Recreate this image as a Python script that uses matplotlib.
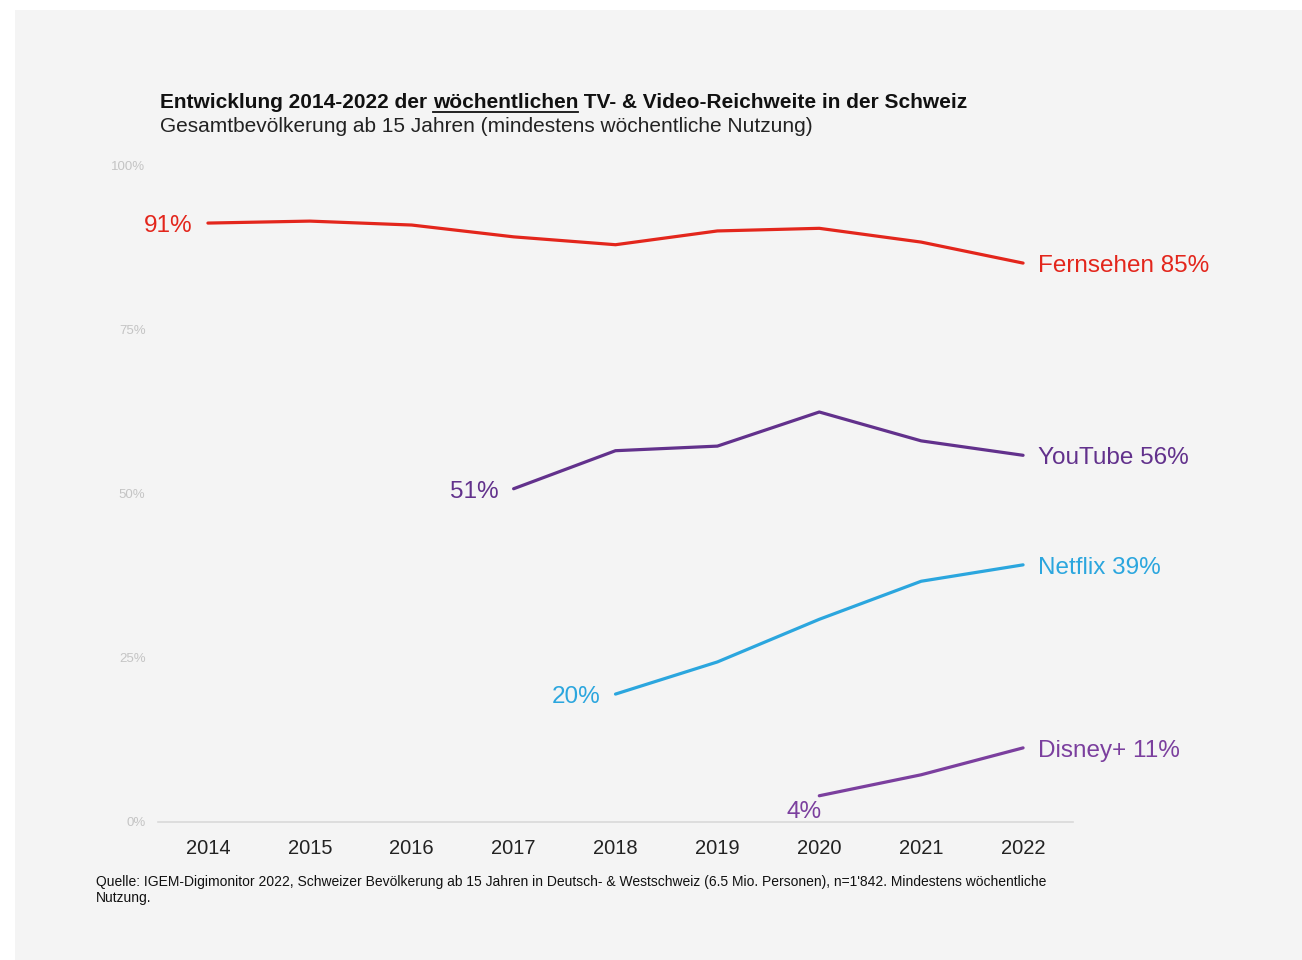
import matplotlib
matplotlib.use('Agg')
import matplotlib.pyplot as plt
from matplotlib.lines import Line2D
from matplotlib.patches import Rectangle

plt.rcParams['font.family'] = ['Liberation Sans', 'DejaVu Sans']

# data (percent, weekly reach)
years = [2014, 2015, 2016, 2017, 2018, 2019, 2020, 2021, 2022]
tv_years = years
tv_vals = [91.3, 91.6, 91.0, 89.2, 88.0, 90.1, 90.5, 88.4, 85.2]
yt_years = [2017, 2018, 2019, 2020, 2021, 2022]
yt_vals = [50.8, 56.6, 57.3, 62.5, 58.1, 55.9]
nf_years = [2018, 2019, 2020, 2021, 2022]
nf_vals = [19.5, 24.4, 30.9, 36.7, 39.2]
dp_years = [2020, 2021, 2022]
dp_vals = [4.0, 7.2, 11.3]

names = ["Fernsehen", "YouTube", "Netflix", "Disney+"]
start_labels = ["91%", "51%", "20%", "4%"]
end_labels = ["85%", "56%", "39%", "11%"]
colors = ["#e3261c", "#62318c", "#2ba6de", "#7b3f9e"]
yticks = [0, 25, 50, 75, 100]

W, H = 1302, 960
fig = plt.figure(figsize=(W / 100, H / 100), dpi=100, facecolor="white")
fig.patches.append(Rectangle((15 / W, 0), 1 - 15 / W, 1 - 10 / H, transform=fig.transFigure,
                             facecolor="#f4f4f4", edgecolor="none", zorder=-10))

ax = fig.add_axes([158 / W, (H - 822) / H, 915 / W, 656 / H])
ax.set_facecolor("none")
ax.set_xlim(2013.51, 2022.49)
ax.set_ylim(0, 100)
for s in ["top", "right", "left"]:
    ax.spines[s].set_visible(False)
ax.spines["bottom"].set_color("#d9d9d9")
ax.spines["bottom"].set_linewidth(1.2)
ax.set_xticks(years)
ax.set_xticklabels([str(y) for y in years], fontsize=14.5, color="#222222")
ax.set_yticks(yticks)
ax.set_yticklabels([f"{v}%" for v in yticks], fontsize=9.5, color="#c4c4c4")
ax.tick_params(axis="both", length=0)
ax.tick_params(axis="x", pad=12)
ax.tick_params(axis="y", pad=9)

series = [(tv_years, tv_vals), (yt_years, yt_vals), (nf_years, nf_vals), (dp_years, dp_vals)]
for (xs, ys), name, sl, el, c in zip(series, names, start_labels, end_labels, colors):
    ax.plot(xs, ys, color=c, lw=2.3, solid_capstyle="round", clip_on=False)
    ax.annotate(f"{name} {el}", (xs[-1], ys[-1]), xytext=(11, -2.2), textcoords="offset points",
                ha="left", va="center", fontsize=17.5, color=c, annotation_clip=False)
    if name == "Disney+":
        ax.annotate(sl, (xs[0], ys[0]), xytext=(-11, -12), textcoords="offset points",
                    ha="center", va="center", fontsize=17.5, color=c, annotation_clip=False)
    else:
        ax.annotate(sl, (xs[0], ys[0]), xytext=(-11, -2.2), textcoords="offset points",
                    ha="right", va="center", fontsize=17.5, color=c, annotation_clip=False)

# title with underlined word
fig.canvas.draw()
r = fig.canvas.get_renderer()
tx, ty = 160 / W, 1 - 102 / H
parts = ["Entwicklung 2014-2022 der ", "wöchentlichen", " TV- & Video-Reichweite in der Schweiz"]
x = tx
for i, p in enumerate(parts):
    t = fig.text(x, ty, p, fontsize=15, fontweight="bold", color="#111111", va="center", ha="left")
    bb = t.get_window_extent(r)
    if i == 1:
        fig.add_artist(Line2D([bb.x0 / W, bb.x1 / W], [(bb.y0 - 0.5) / H, (bb.y0 - 0.5) / H],
                              color="#111111", lw=1.3, transform=fig.transFigure))
    x = bb.x1 / W

fig.text(tx, 1 - 127 / H, "Gesamtbevölkerung ab 15 Jahren (mindestens wöchentliche Nutzung)",
         fontsize=15, color="#222222", va="center", ha="left")

fig.text(96 / W, 1 - 875 / H,
         "Quelle: IGEM-Digimonitor 2022, Schweizer Bevölkerung ab 15 Jahren in Deutsch- & Westschweiz "
         "(6.5 Mio. Personen), n=1'842. Mindestens wöchentliche\nNutzung.",
         fontsize=10, color="#111111", va="top", ha="left", linespacing=1.2,
         family=["Liberation Sans Narrow", "Liberation Sans", "DejaVu Sans"])

fig.savefig("out.png", dpi=100, facecolor="white")
